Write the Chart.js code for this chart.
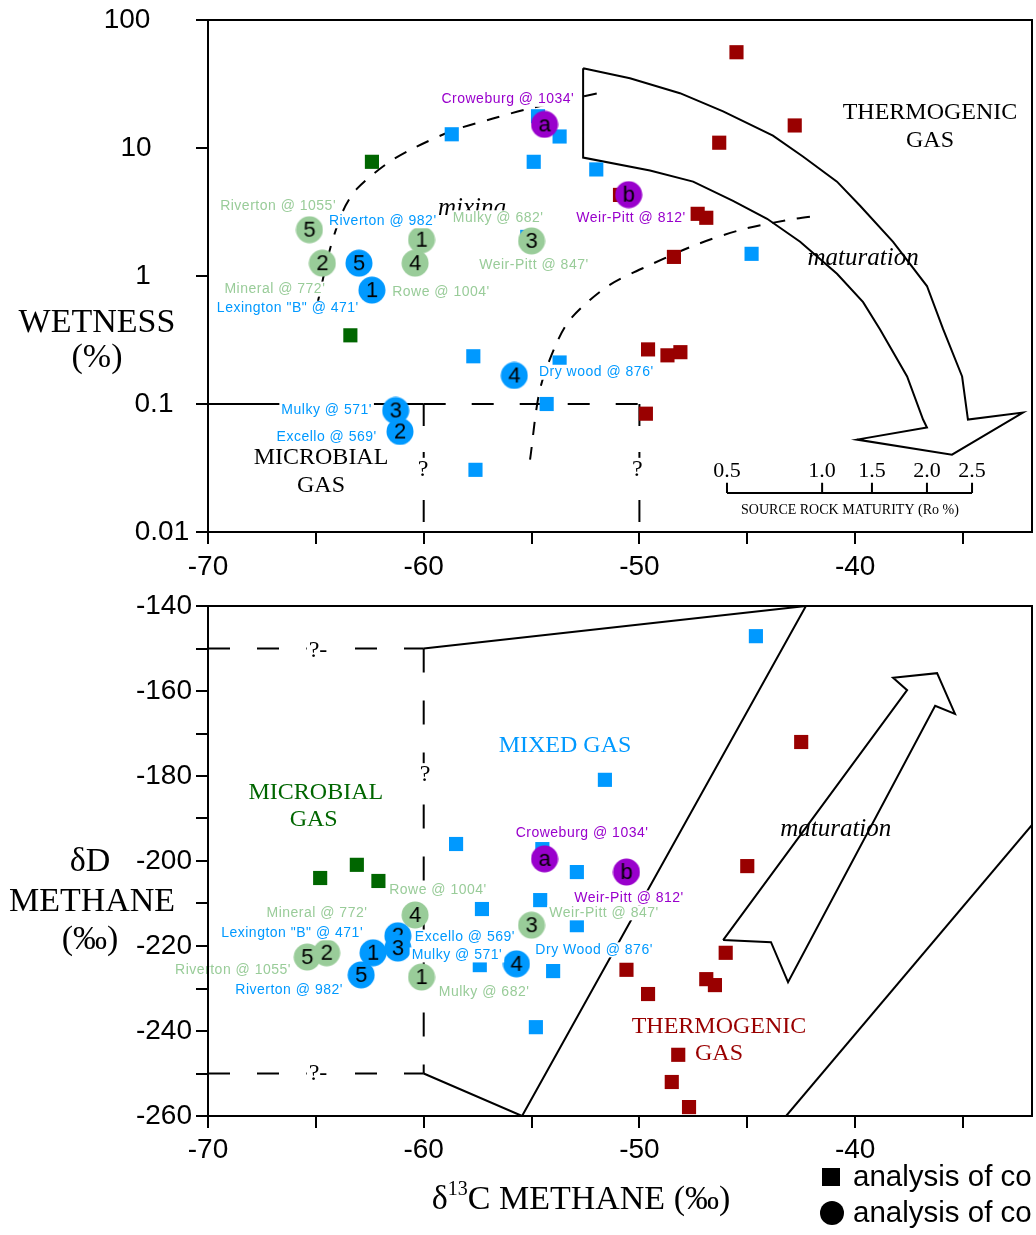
<!DOCTYPE html>
<html>
<head>
<meta charset="utf-8">
<title>Wetness and δD vs δ13C methane</title>
<script src="https://cdn.jsdelivr.net/npm/chart.js@4.4.1/dist/chart.umd.min.js"></script>
<style>
  html, body { margin: 0; padding: 0; background: #fff; }
  #page { position: relative; width: 1036px; height: 1235px; overflow: hidden; background: #fff; }
  #page canvas { position: absolute; left: 0; }
  #c-wet { top: 0; }
  #c-dd  { top: 590px; }
</style>
</head>
<body>
<div id="page">
  <canvas id="c-wet" width="1036" height="590"></canvas>
  <canvas id="c-dd" width="1036" height="645"></canvas>
</div>
<script>
const BLUE = '#0099ff', RED = '#990000', DKGREEN = '#006600', LTGREEN = '#99cc99', PURPLE = '#9900cc';
const SANS  = '"Liberation Sans", Arial, sans-serif';
const SERIF = '"Liberation Serif", "Times New Roman", serif';

const X_MIN = -70, X_MAX = -31.8;

// ─── Upper panel: wetness (%) vs δ13C methane ────────────────────
const wetTicks = [0.01, 0.1, 1, 10, 100];

const wetRedC13   = [-45.5, -42.8, -46.3, -47.3, -46.9, -48.4, -49.6, -48.7, -48.1, -49.7, -50.9];
const wetRedW     = [56, 15.0, 11.0, 3.06, 2.85, 1.41, 0.267, 0.24, 0.254, 0.084, 4.3];
const wetBlueC13  = [-58.7, -53.7, -54.9, -52.0, -44.8, -57.7, -53.7, -54.3, -57.6, -54.7, -55.2];
const wetBlueW    = [12.8, 12.3, 7.8, 6.8, 1.49, 0.236, 0.211, 0.1, 0.0306, 17.7, 2.02];
const wetGreenC13 = [-62.4, -63.4];
const wetGreenW   = [7.8, 0.344];

// circles (desorbed samples), drawn in this order
const wetBlueIds   = ['5', '1', '4', '3', '2'];
const wetBlueCC13  = [-63.0, -62.4, -55.8, -61.3, -61.1];
const wetBlueCW    = [1.26, 0.776, 0.167, 0.089, 0.061];
const wetGreenIds  = ['5', '2', '1', '4', '3'];
const wetGreenCC13 = [-65.3, -64.7, -60.1, -60.4, -55.0];
const wetGreenCW   = [2.30, 1.26, 1.92, 1.26, 1.88];
const wetPurpIds   = ['a', 'b'];
const wetPurpCC13  = [-54.4, -50.5];
const wetPurpCW    = [15.3, 4.32];

// outlines
const wetArrowC13 = [-52.61, -50.44, -48.12, -46.12, -43.81, -42.42, -40.84, -39.77, -38.24, -36.67, -35.92, -35.04, -34.77, -32.22,
                     -35.51, -39.91, -36.67, -36.85, -37.59, -38.85, -39.63, -40.84, -42.55, -44.08, -45.66, -47.51, -49.51, -52.61, -52.61];
const wetArrowW   = [42.0, 35.1, 26.8, 19.3, 12.5, 8.58, 5.46, 3.54, 1.85, 0.835, 0.384, 0.164, 0.0756, 0.0857,
                     0.0402, 0.0527, 0.0654, 0.0756, 0.164, 0.384, 0.625, 1.04, 1.85, 2.80, 3.87, 5.46, 6.66, 8.42, 42.0];
const mixA_C13 = [-64.99, -64.9, -64.34, -63.74, -63.09, -61.70, -60.50, -58.64, -56.79, -55.07, -51.92];
const mixA_W   = [0.571, 0.637, 1.63, 3.23, 4.81, 7.56, 9.91, 13.7, 17.0, 20.4, 26.8];
const mixB_C13 = [-55.07, -54.61, -53.82, -53.12, -51.46, -49.42, -47.28, -45.10, -42.79, -41.72];
const mixB_W   = [0.0367, 0.130, 0.304, 0.477, 0.835, 1.24, 1.78, 2.34, 2.80, 2.96];

// source rock maturity (Ro %) inset scale
const roLabels = ['0.5', '1.0', '1.5', '2.0', '2.5'];
const roAtC13  = [-45.94, -41.53, -39.22, -36.67, -34.58];

// ─── Lower panel: δD methane vs δ13C methane ────────────────────
const ddRedC13   = [-42.5, -45.0, -46.0, -50.6, -46.9, -46.5, -49.6, -48.2, -48.5, -47.7];
const ddRedD     = [-172.0, -201.2, -221.6, -225.6, -227.8, -229.2, -231.3, -245.6, -252.0, -257.9];
const ddBlueC13  = [-44.6, -51.6, -58.5, -54.5, -52.9, -54.6, -57.3, -52.9, -57.4, -54.0, -54.8];
const ddBlueD    = [-147.1, -180.9, -196.0, -197.2, -202.6, -209.2, -211.3, -215.1, -224.5, -225.9, -239.1];
const ddGreenC13 = [-64.8, -63.1, -62.1];
const ddGreenD   = [-204.0, -200.9, -204.7];

const ddBlueIds   = ['5', '1', '2', '3', '4'];
const ddBlueCC13  = [-62.9, -62.35, -61.2, -61.2, -55.7];
const ddBlueCD    = [-226.8, -221.6, -217.6, -220.5, -224.2];
const ddGreenIds  = ['1', '4', '3', '5', '2'];
const ddGreenCC13 = [-60.1, -60.4, -55.0, -65.4, -64.5];
const ddGreenCD   = [-227.3, -212.7, -215.1, -222.6, -221.6];
const ddPurpIds   = ['a', 'b'];
const ddPurpCC13  = [-54.4, -50.6];
const ddPurpCD    = [-199.5, -202.6];

const ddMixC13   = [-60, -42.28, -55.44, -60];
const ddMixD     = [-150, -140, -260, -250];
const ddThermC13 = [-43.2, -31.8];
const ddThermD   = [-260, -191.5];
const ddArrowC13 = [-46.12, -43.90, -43.11, -36.29, -35.37, -36.20, -38.24, -37.59, -46.12];
const ddArrowD   = [-218.6, -219.1, -228.5, -163.5, -165.4, -155.8, -156.9, -159.8, -218.6];

// ─── helpers ─────────────────────────────────────────────────────
const pts = (xs, ys) => xs.map((x, i) => ({ x, y: ys[i] }));

function circleIcon(fill, txt) {
  const c = document.createElement('canvas');
  c.width = 28; c.height = 28;
  const g = c.getContext('2d');
  g.fillStyle = fill;
  g.beginPath(); g.arc(14, 14, 13.5, 0, Math.PI * 2); g.fill();
  g.fillStyle = '#000';
  g.font = '22px ' + SANS;
  g.textAlign = 'center'; g.textBaseline = 'middle';
  g.fillText(txt, 14, 15);
  return c;
}

const squares = (xs, ys, color) => ({
  data: pts(xs, ys), pointStyle: 'rect', pointRadius: 10,
  backgroundColor: color, borderColor: color, borderWidth: 0, order: 2,
});
const circles = (xs, ys, ids, color) => {
  const icons = ids.map(t => circleIcon(color, t));
  return { data: pts(xs, ys), pointStyle: c => icons[c.dataIndex], pointRadius: 14, order: 1 };
};
const outline = (xs, ys, dash, tension) => ({
  data: pts(xs, ys), showLine: true, pointRadius: 0, borderColor: '#000', borderWidth: 2,
  borderDash: dash || [], tension: tension || 0, fill: false, order: 5,
});

function drawNotes(ctx, x, y, notes) {
  ctx.save();
  ctx.textAlign = 'center'; ctx.textBaseline = 'middle';
  notes.forEach(n => {
    const px = x.getPixelForValue(n.x), py = y.getPixelForValue(n.y);
    ctx.font = n.f;
    ctx.letterSpacing = n.f === LBL ? '0.5px' : '0px';
    if (n.bg) {
      const w = ctx.measureText(n.t).width;
      ctx.fillStyle = '#fff';
      ctx.fillRect(px - w / 2 - 2, py - n.bg / 2, w + 4, n.bg);
    }
    ctx.fillStyle = n.c || '#000';
    ctx.fillText(n.t, px, py);
  });
  ctx.restore();
}

function text(ctx, t, x, y, font, color, align) {
  ctx.font = font; ctx.fillStyle = color || '#000';
  ctx.textAlign = align || 'center'; ctx.textBaseline = 'middle';
  ctx.fillText(t, x, y);
}

function frame(chart) {
  const { ctx, chartArea: a } = chart;
  ctx.save();
  ctx.strokeStyle = '#000'; ctx.lineWidth = 2;
  ctx.strokeRect(a.left, a.top, a.right - a.left, a.bottom - a.top);
  ctx.restore();
}

const TICK_FONT = { family: SANS, size: 28 };

function xAxis(height, pad) {
  return {
    type: 'linear', min: X_MIN, max: X_MAX,
    border: { display: false },
    grid: { drawOnChartArea: false, drawTicks: true, tickLength: 12, color: '#000', lineWidth: 2 },
    ticks: {
      stepSize: 5, includeBounds: false, autoSkip: false, maxRotation: 0, padding: pad,
      color: '#000', font: TICK_FONT,
      callback: v => (v % 10 === 0 ? String(v) : ''),
    },
    afterFit: s => { s.height = height; s.paddingLeft = 0; s.paddingRight = 0; },
  };
}

const LBL = '14px ' + SANS;
const REG = '24px ' + SERIF;
const ITA = 'italic 25px ' + SERIF;
const Q   = '24px ' + SERIF;

// ─── upper panel texts ───────────────────────────────────────────
const wetNotes = [
  { t: 'mixing', x: -57.76, y: 3.35, f: ITA },
  { t: 'maturation', x: -39.63, y: 1.36, f: ITA },
  { t: 'THERMOGENIC', x: -36.53, y: 19.0, f: REG },
  { t: 'GAS', x: -36.53, y: 11.5, f: REG },
  { t: 'MICROBIAL', x: -64.76, y: 0.038, f: REG },
  { t: 'GAS', x: -64.76, y: 0.023, f: REG },
  { t: '?', x: -60.03, y: 0.0306, f: Q, bg: 24 },
  { t: '?', x: -50.1, y: 0.0306, f: Q, bg: 24 },
  { t: "Croweburg @ 1034'", x: -56.1, y: 24.0, c: PURPLE, f: LBL, bg: 15 },
  { t: "Riverton @ 1055'", x: -66.75, y: 3.54, c: LTGREEN, f: LBL, bg: 15 },
  { t: "Riverton @ 982'", x: -61.9, y: 2.70, c: BLUE, f: LBL, bg: 15 },
  { t: "Mulky @ 682'", x: -56.55, y: 2.85, c: LTGREEN, f: LBL, bg: 15 },
  { t: "Weir-Pitt @ 812'", x: -50.39, y: 2.85, c: PURPLE, f: LBL, bg: 15 },
  { t: "Weir-Pitt @ 847'", x: -54.89, y: 1.22, c: LTGREEN, f: LBL, bg: 15 },
  { t: "Mineral @ 772'", x: -66.9, y: 0.79, c: LTGREEN, f: LBL, bg: 15 },
  { t: "Rowe @ 1004'", x: -59.2, y: 0.75, c: LTGREEN, f: LBL, bg: 15 },
  { t: 'Lexington "B" @ 471\'', x: -66.3, y: 0.56, c: BLUE, f: LBL, bg: 15 },
  { t: "Dry wood @ 876'", x: -52.0, y: 0.177, c: BLUE, f: LBL, bg: 15 },
  { t: "Mulky @ 571'", x: -64.5, y: 0.089, c: BLUE, f: LBL, bg: 15 },
  { t: "Excello @ 569'", x: -64.5, y: 0.0546, c: BLUE, f: LBL, bg: 15 },
];
const wetTickLabelX = [162, 154, 143, 136, 127];

const wetDecor = {
  id: 'wetDecor',
  afterDatasetsDraw(chart) {
    const { ctx, scales: { x, y } } = chart;
    // maturity inset
    ctx.save();
    ctx.strokeStyle = '#000'; ctx.lineWidth = 2;
    const yb = y.getPixelForValue(0.0202), yt = y.getPixelForValue(0.0242);
    ctx.beginPath();
    ctx.moveTo(x.getPixelForValue(roAtC13[0]), yb);
    ctx.lineTo(x.getPixelForValue(roAtC13[roAtC13.length - 1]), yb);
    roAtC13.forEach(v => { const px = x.getPixelForValue(v); ctx.moveTo(px, yb); ctx.lineTo(px, yt); });
    ctx.stroke();
    const yl = y.getPixelForValue(0.0296);
    roLabels.forEach((l, i) => text(ctx, l, x.getPixelForValue(roAtC13[i]), yl, '22px ' + SERIF));
    text(ctx, 'SOURCE ROCK MATURITY (Ro %)', x.getPixelForValue(-40.24), y.getPixelForValue(0.0149), '14px ' + SERIF);
    ctx.restore();
    drawNotes(ctx, x, y, wetNotes);
  },
  afterDraw(chart) {
    const { ctx, scales: { y } } = chart;
    frame(chart);
    ctx.save();
    wetTicks.forEach((v, i) => text(ctx, String(v), wetTickLabelX[i], y.getPixelForValue(v), '28px ' + SANS));
    text(ctx, 'WETNESS', 97, 323, '34px ' + SERIF);
    text(ctx, '(%)', 97, 358, '34px ' + SERIF);
    ctx.restore();
  },
};

new Chart(document.getElementById('c-wet'), {
  type: 'scatter',
  data: {
    datasets: [
      circles(wetPurpCC13, wetPurpCW, wetPurpIds, PURPLE),
      circles(wetBlueCC13, wetBlueCW, wetBlueIds, BLUE),
      circles(wetGreenCC13, wetGreenCW, wetGreenIds, LTGREEN),
      squares(wetRedC13, wetRedW, RED),
      squares(wetBlueC13, wetBlueW, BLUE),
      squares(wetGreenC13, wetGreenW, DKGREEN),
      outline([-70, -60], [0.1, 0.1]),
      outline([-60, -50], [0.1, 0.1], [22, 26]),
      outline([-60, -60], [0.1, 0.01], [22, 26]),
      outline([-50, -50], [0.1, 0.01], [22, 26]),
      outline(mixA_C13, mixA_W, [13, 12], 0.3),
      outline(mixB_C13, mixB_W, [13, 12], 0.3),
      outline(wetArrowC13, wetArrowW),
    ],
  },
  options: {
    responsive: false, animation: false, events: [], devicePixelRatio: 1,
    layout: { autoPadding: false, padding: { left: 0, right: 4, top: 20, bottom: 0 } },
    scales: {
      x: xAxis(58, 6),
      y: {
        type: 'logarithmic', min: 0.01, max: 100,
        border: { display: false },
        grid: { drawOnChartArea: false, drawTicks: true, tickLength: 12, color: '#000', lineWidth: 2 },
        ticks: { display: false },
        afterBuildTicks: s => { s.ticks = wetTicks.map(v => ({ value: v })); },
        afterFit: s => { s.width = 208; s.paddingTop = 0; s.paddingBottom = 0; },
      },
    },
    plugins: { legend: { display: false }, tooltip: { enabled: false } },
  },
  plugins: [wetDecor],
});

// ─── lower panel texts ───────────────────────────────────────────
const ddNotes = [
  { t: 'MIXED GAS', x: -53.45, y: -172.9, c: BLUE, f: REG },
  { t: 'MICROBIAL', x: -65.0, y: -184.0, c: DKGREEN, f: REG },
  { t: 'GAS', x: -65.1, y: -190.4, c: DKGREEN, f: REG },
  { t: 'THERMOGENIC', x: -46.31, y: -239.1, c: RED, f: REG },
  { t: 'GAS', x: -46.31, y: -245.4, c: RED, f: REG },
  { t: 'maturation', x: -40.9, y: -192.5, f: ITA },
  { t: '?', x: -59.94, y: -179.8, f: Q, bg: 24 },
  { t: '?-', x: -64.9, y: -150.6, f: Q, bg: 24 },
  { t: '?-', x: -64.9, y: -250.1, f: Q, bg: 24 },
  { t: "Croweburg @ 1034'", x: -52.66, y: -193.4, c: PURPLE, f: LBL, bg: 15 },
  { t: "Rowe @ 1004'", x: -59.34, y: -206.8, c: LTGREEN, f: LBL, bg: 15 },
  { t: "Weir-Pitt @ 812'", x: -50.48, y: -208.7, c: PURPLE, f: LBL, bg: 15 },
  { t: "Mineral @ 772'", x: -64.95, y: -212.2, c: LTGREEN, f: LBL, bg: 15 },
  { t: "Weir-Pitt @ 847'", x: -51.64, y: -212.2, c: LTGREEN, f: LBL, bg: 15 },
  { t: 'Lexington "B" @ 471\'', x: -66.1, y: -216.9, c: BLUE, f: LBL, bg: 15 },
  { t: "Excello @ 569'", x: -58.09, y: -217.9, c: BLUE, f: LBL, bg: 15 },
  { t: "Dry Wood @ 876'", x: -52.1, y: -220.9, c: BLUE, f: LBL, bg: 15 },
  { t: "Mulky @ 571'", x: -58.46, y: -222.1, c: BLUE, f: LBL, bg: 15 },
  { t: "Riverton @ 1055'", x: -68.84, y: -225.6, c: LTGREEN, f: LBL, bg: 15 },
  { t: "Riverton @ 982'", x: -66.24, y: -230.4, c: BLUE, f: LBL, bg: 15 },
  { t: "Mulky @ 682'", x: -57.2, y: -230.8, c: LTGREEN, f: LBL, bg: 15 },
];

const ddDecor = {
  id: 'ddDecor',
  afterDatasetsDraw(chart) {
    const { ctx, scales: { x, y } } = chart;
    drawNotes(ctx, x, y, ddNotes);
  },
  afterDraw(chart) {
    const { ctx } = chart;
    frame(chart);
    ctx.save();
    const big = '34px ' + SERIF;
    text(ctx, 'δD', 90, 272, big);
    text(ctx, 'METHANE', 92, 312, big);
    text(ctx, '(‰)', 90, 350, big);
    // x title with superscript
    const sup = '20px ' + SERIF;
    ctx.font = big; const w1 = ctx.measureText('δ').width, w3 = ctx.measureText('C METHANE (‰)').width;
    ctx.font = sup; const w2 = ctx.measureText('13').width;
    let sx = 581 - (w1 + w2 + w3) / 2;
    text(ctx, 'δ', sx, 610, big, '#000', 'left'); sx += w1;
    text(ctx, '13', sx, 600, sup, '#000', 'left'); sx += w2;
    text(ctx, 'C METHANE (‰)', sx, 610, big, '#000', 'left');
    // legend
    ctx.fillStyle = '#000';
    ctx.fillRect(822, 578, 18, 18);
    ctx.beginPath(); ctx.arc(832, 623, 12, 0, Math.PI * 2); ctx.fill();
    text(ctx, 'analysis of co', 853, 588, '29.5px ' + SANS, '#000', 'left');
    text(ctx, 'analysis of co', 853, 624, '29.5px ' + SANS, '#000', 'left');
    ctx.restore();
  },
};

new Chart(document.getElementById('c-dd'), {
  type: 'scatter',
  data: {
    datasets: [
      circles(ddPurpCC13, ddPurpCD, ddPurpIds, PURPLE),
      circles(ddBlueCC13, ddBlueCD, ddBlueIds, BLUE),
      circles(ddGreenCC13, ddGreenCD, ddGreenIds, LTGREEN),
      squares(ddRedC13, ddRedD, RED),
      squares(ddBlueC13, ddBlueD, BLUE),
      squares(ddGreenC13, ddGreenD, DKGREEN),
      outline([-70, -60], [-150, -150], [22, 27]),
      outline([-70, -60], [-250, -250], [22, 27]),
      outline([-60, -60], [-150, -250], [24, 28]),
      outline(ddMixC13, ddMixD),
      outline(ddThermC13, ddThermD),
      outline(ddArrowC13, ddArrowD),
    ],
  },
  options: {
    responsive: false, animation: false, events: [], devicePixelRatio: 1,
    layout: { autoPadding: false, padding: { left: 0, right: 4, top: 16, bottom: 0 } },
    scales: {
      x: xAxis(119, 5),
      y: {
        type: 'linear', min: -260, max: -140,
        border: { display: false },
        grid: { drawOnChartArea: false, drawTicks: true, tickLength: 12, color: '#000', lineWidth: 2 },
        ticks: {
          stepSize: 10, autoSkip: false, padding: 4, color: '#000', font: TICK_FONT,
          callback: v => (v % 20 === 0 ? String(v) : ''),
        },
        afterFit: s => { s.width = 208; s.paddingTop = 0; s.paddingBottom = 0; },
      },
    },
    plugins: { legend: { display: false }, tooltip: { enabled: false } },
  },
  plugins: [ddDecor],
});
</script>
</body>
</html>
